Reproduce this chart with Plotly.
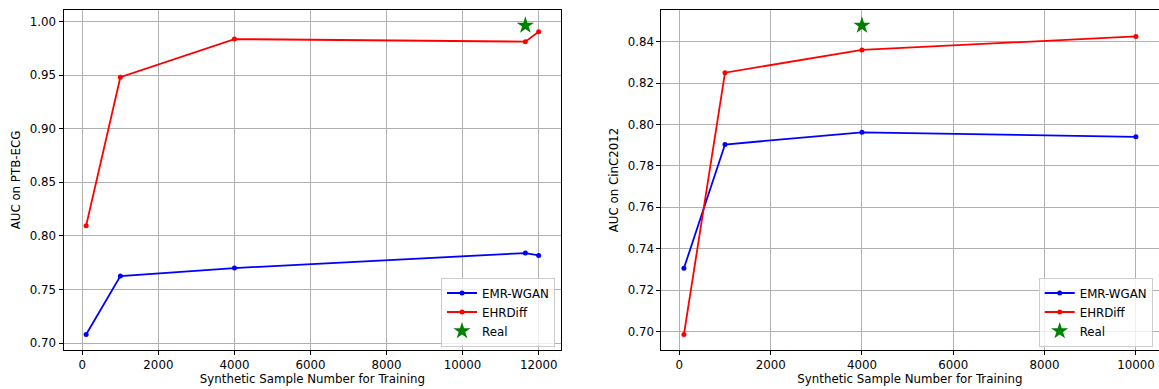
import plotly.graph_objects as go

# ---- data ----
ptb_x = [100, 1000, 4000, 11650, 12000]
ptb_emr = [0.708, 0.7625, 0.770, 0.784, 0.7818]
ptb_ehr = [0.8095, 0.948, 0.9836, 0.9812, 0.9905]
ptb_real_x = [11650]
ptb_real_y = [0.9963]

cinc_x = [100, 1000, 4000, 10000]
cinc_emr = [0.7305, 0.7903, 0.7962, 0.7940]
cinc_ehr = [0.6985, 0.8250, 0.8360, 0.8425]
cinc_real_x = [4000]
cinc_real_y = [0.8478]

ptb_xticks = [0, 2000, 4000, 6000, 8000, 10000, 12000]
ptb_yticks = [0.70, 0.75, 0.80, 0.85, 0.90, 0.95, 1.00]
cinc_xticks = [0, 2000, 4000, 6000, 8000, 10000]
cinc_yticks = [0.70, 0.72, 0.74, 0.76, 0.78, 0.80, 0.82, 0.84]

W, H = 1159, 389
FONT = "DejaVu Sans"
FS = 11.8
BLUE = "#0000ff"
RED = "#ff0000"
GREEN = "#008000"

fig = go.Figure()

def add_series(x, emr, ehr, rx, ry, xa, ya, leg):
    fig.add_trace(go.Scatter(x=x, y=emr, mode="lines+markers", name="EMR-WGAN",
                             line=dict(color=BLUE, width=1.8), marker=dict(color=BLUE, size=5),
                             xaxis=xa, yaxis=ya, legend=leg))
    fig.add_trace(go.Scatter(x=x, y=ehr, mode="lines+markers", name="EHRDiff",
                             line=dict(color=RED, width=1.8), marker=dict(color=RED, size=5),
                             xaxis=xa, yaxis=ya, legend=leg))
    fig.add_trace(go.Scatter(x=rx, y=ry, mode="markers", name="Real",
                             marker=dict(color=GREEN, size=13, symbol="star", line=dict(width=0)),
                             xaxis=xa, yaxis=ya, legend=leg))

add_series(ptb_x, ptb_emr, ptb_ehr, ptb_real_x, ptb_real_y, "x", "y", "legend")
add_series(cinc_x, cinc_emr, cinc_ehr, cinc_real_x, cinc_real_y, "x2", "y2", "legend2")

ml, mr, mt, mb = 0, 0, 10, 38.5
pw = W - ml - mr
ph = H - mt - mb

def px_x(p):
    return (p - ml) / pw

def px_y(p):
    return (H - mb - p) / ph

axis_common = dict(showline=True, mirror=True, linecolor="black", linewidth=1,
                   ticks="outside", ticklen=4, tickwidth=1, tickcolor="black",
                   showgrid=True, gridcolor="#b0b0b0", gridwidth=0.8, zeroline=False,
                   tickfont=dict(family=FONT, size=FS, color="black"))

def pad(vmin, vmax):
    span = vmax - vmin
    return [vmin - 0.05 * span, vmax + 0.05 * span]

ptb_all = ptb_emr + ptb_ehr + ptb_real_y
cinc_all = cinc_emr + cinc_ehr + cinc_real_y

fig.update_layout(
    width=W, height=H,
    margin=dict(l=ml, r=mr, t=mt, b=mb),
    paper_bgcolor="white", plot_bgcolor="white",
    font=dict(family=FONT, size=FS, color="black"),
    xaxis=dict(domain=[px_x(63.5), px_x(561.3)], anchor="y", range=pad(min(ptb_x), max(ptb_x)),
               tickvals=ptb_xticks, tickformat="d",
               title=dict(text="Synthetic Sample Number for Training", font=dict(size=FS), standoff=3),
               **axis_common),
    yaxis=dict(domain=[0, 1], anchor="x", range=pad(min(ptb_all), max(ptb_all)),
               tickvals=ptb_yticks, tickformat=".2f",
               title=dict(text="AUC on PTB-ECG", font=dict(size=FS), standoff=6),
               **axis_common),
    xaxis2=dict(domain=[px_x(661.3), px_x(1158.5)], anchor="y2", range=pad(min(cinc_x), max(cinc_x)),
                tickvals=cinc_xticks, tickformat="d",
                title=dict(text="Synthetic Sample Number for Training", font=dict(size=FS), standoff=3),
                **axis_common),
    yaxis2=dict(domain=[0, 1], anchor="x2", range=pad(min(cinc_all), max(cinc_all)),
                tickvals=cinc_yticks, tickformat=".2f",
                title=dict(text="AUC on CinC2012", font=dict(size=FS), standoff=6),
                **axis_common),
    legend=dict(x=px_x(555), y=px_y(347), xanchor="right", yanchor="bottom",
                bgcolor="rgba(255,255,255,0.8)", bordercolor="#cccccc", borderwidth=1,
                font=dict(family=FONT, size=FS), tracegroupgap=0),
    legend2=dict(x=px_x(1152.7), y=px_y(347), xanchor="right", yanchor="bottom",
                 bgcolor="rgba(255,255,255,0.8)", bordercolor="#cccccc", borderwidth=1,
                 font=dict(family=FONT, size=FS), tracegroupgap=0),
    showlegend=True,
)

fig.write_html("out.html")
